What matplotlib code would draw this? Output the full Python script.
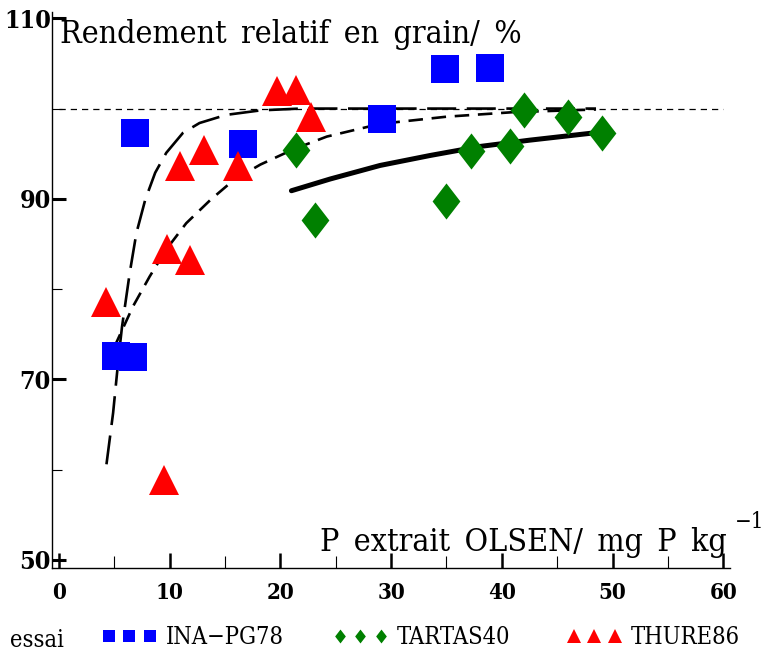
import numpy as np
import matplotlib
matplotlib.use("Agg")
import matplotlib.pyplot as plt
from matplotlib.lines import Line2D

# data
ina_x = [6.9, 5.2, 6.7, 16.6, 29.2, 34.9, 38.9]
ina_y = [97.3, 72.6, 72.5, 96.1, 98.8, 104.4, 104.5]

tartas_x = [21.4, 23.1, 35.0, 37.2, 40.7, 42.0, 46.0, 49.0]
tartas_y = [95.4, 87.7, 89.8, 95.3, 95.9, 99.8, 99.1, 97.3]

thure_x = [4.3, 9.5, 9.8, 10.9, 11.8, 13.1, 16.2, 19.7, 21.4, 22.8]
thure_y = [78.6, 58.9, 84.4, 93.6, 83.2, 95.4, 93.6, 101.9, 102.1, 99.1]

# fitted curves
long_x = [4.3, 4.9, 5.4, 5.7, 6.4, 7.0, 7.8, 8.7, 9.7, 11.2, 12.7, 15.1, 18.2,
          21.8, 30.0, 40.0, 48.5]
long_y = [60.6, 66.3, 72.5, 75.8, 81.8, 86.2, 89.9, 92.9, 95.1, 97.3, 98.4, 99.3, 99.8,
          100.0, 100.0, 100.0, 100.0]

short_x = [4.3, 4.9, 5.8, 6.7, 8.2, 9.7, 11.5, 13.7, 15.8, 18.2, 21.2, 24.2, 29.0,
           35.0, 41.0, 48.5]
short_y = [71.1, 73.3, 75.7, 78.1, 81.4, 84.4, 87.3, 89.9, 92.1, 93.8, 95.5, 96.9, 98.3,
           99.1, 99.6, 99.9]

solid_x = [21.0, 24.5, 29.0, 33.5, 38.0, 42.5, 49.0]
solid_y = [90.9, 92.2, 93.7, 94.8, 95.8, 96.5, 97.4]

series_names = ["INA\u2212PG78", "TARTAS40", "THURE86"]

serif = ["DejaVu Serif Condensed", "DejaVu Serif"]
diamond = [(0, 1), (0.77, 0), (0, -1), (-0.77, 0), (0, 1)]
sp = "\u2002"  # wider word gap like the original

fig = plt.figure(figsize=(7.67, 6.54), dpi=100)
ax = fig.add_axes([0.0682, 0.132, 0.8836, 0.8497])

ax.axhline(100, xmin=0.0095, xmax=0.99, color="black", lw=0.9, ls=(0, (5, 4)))

ax.plot(long_x, long_y, color="black", lw=1.9, ls=(0, (11, 4)))
ax.plot(short_x, short_y, color="black", lw=1.9, ls=(0, (5.5, 3.3)))
ax.plot(solid_x, solid_y, color="black", lw=3.6, solid_capstyle="round")

ax.plot(ina_x, ina_y, ls="none", marker="s", ms=19.5, mfc="blue", mec="blue", mew=0)
ax.plot(tartas_x, tartas_y, ls="none", marker=diamond, ms=26, mfc="green", mec="green", mew=0)
ax.plot(thure_x, thure_y, ls="none", marker="^", ms=22, mfc="red", mec="red", mew=0)

ax.set_xlim(-0.59, 60.6)
ax.set_ylim(49.15, 110.7)
ax.spines["top"].set_visible(False)
ax.spines["right"].set_visible(False)
ax.spines["left"].set_linewidth(1.0)
ax.spines["bottom"].set_linewidth(1.0)

ax.set_xticks([0, 10, 20, 30, 40, 50, 60])
ax.set_xticks([5, 15, 25, 35, 45, 55], minor=True)
ax.set_yticks([50, 70, 90, 110])
ax.set_yticks([60, 80, 100], minor=True)
ax.tick_params(axis="x", which="major", direction="in", length=11, width=1.8, pad=10)
ax.tick_params(axis="x", which="minor", direction="in", length=9, width=0.8)
ax.tick_params(axis="y", which="major", direction="in", length=10, width=2.2, pad=1)
ax.tick_params(axis="y", which="minor", direction="in", length=7, width=0.8)
for lab in ax.get_xticklabels():
    lab.set_fontfamily(serif)
    lab.set_fontstretch("condensed")
    lab.set_fontweight("bold")
    lab.set_fontsize(16)
for lab in ax.get_yticklabels():
    lab.set_fontfamily(serif)
    lab.set_fontstretch("condensed")
    lab.set_fontweight("bold")
    lab.set_fontsize(18)

title_txt = sp.join(["Rendement", "relatif", "en", "grain/", "%"])
xlab_txt = sp.join(["P", "extrait", "OLSEN/", "mg", "P", "kg"])
ax.text(0.1, 107.3, title_txt, fontsize=23, family=serif,
        stretch="condensed", ha="left", va="baseline")
ax.text(60.3, 51.0, xlab_txt, fontsize=23, family=serif,
        stretch="condensed", ha="right", va="baseline")
ax.text(61.0, 53.5, "\u22121", fontsize=16, family=serif, stretch="condensed",
        ha="left", va="baseline", clip_on=False)

# legend at the bottom
fig.text(10 / 767, 1 - 647 / 654, "essai", fontsize=17, family=serif,
         stretch="condensed", ha="left", va="baseline")
handles = [
    Line2D([], [], ls="none", marker="s", ms=8, mfc="blue", mec="blue", mew=0),
    Line2D([], [], ls="none", marker=diamond, ms=10, mfc="green", mec="green", mew=0),
    Line2D([], [], ls="none", marker="^", ms=9.5, mfc="red", mec="red", mew=0),
]
leg_x = [101.5, 332.5, 566.5]
for i in range(3):
    leg = fig.legend([handles[i]], [series_names[i]], loc="center left",
                     bbox_to_anchor=(leg_x[i] / 767, 1 - 638 / 654),
                     frameon=False, numpoints=3, handlelength=2.36,
                     handletextpad=0.35, borderpad=0, borderaxespad=0,
                     prop={"family": serif, "stretch": "condensed", "size": 17})

fig.savefig("out.png", dpi=100)
